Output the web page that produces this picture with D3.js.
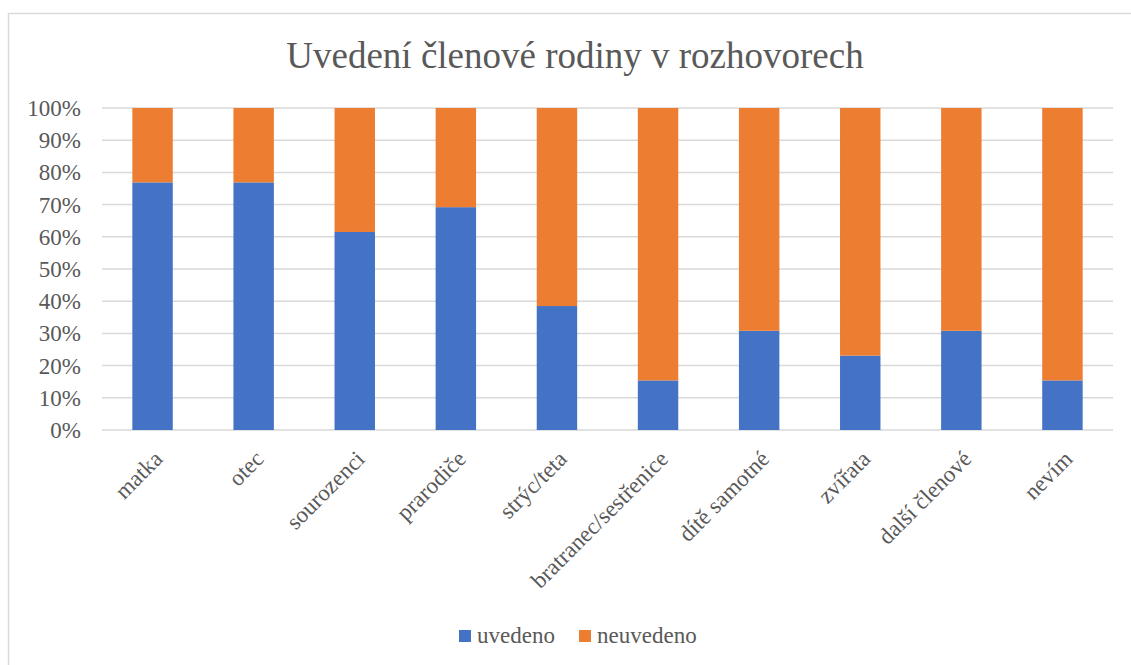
<!DOCTYPE html>
<html>
<head>
<meta charset="utf-8">
<script src="https://cdn.jsdelivr.net/npm/d3@7"></script>
<style>
  body { margin: 0; background: #fff; }
</style>
</head>
<body>
<div id="chart"></div>
<script>
// data
const categories = ["matka", "otec", "sourozenci", "prarodiče", "strýc/teta",
  "bratranec/sestřenice", "dítě samotné", "zvířata", "další členové", "nevím"];
const uvedeno = [76.9, 76.9, 61.5, 69.2, 38.5, 15.4, 30.8, 23.1, 30.8, 15.4];
const neuvedeno = uvedeno.map(v => 100 - v);
const seriesNames = ["uvedeno", "neuvedeno"];
const seriesColors = ["#4472C4", "#ED7D31"];
const yTicks = [0, 10, 20, 30, 40, 50, 60, 70, 80, 90, 100];

const fontFamily = "'Liberation Serif', 'DejaVu Serif', serif";
const width = 1131, height = 665;
const margin = {top: 108, right: 18, bottom: 235, left: 102};

const svg = d3.select("#chart").append("svg")
  .attr("width", width)
  .attr("height", height)
  .attr("font-family", fontFamily);

// chart border (only top and left are inside the picture)
svg.append("rect")
  .attr("x", 8.5).attr("y", 13.5)
  .attr("width", width + 20).attr("height", height + 20)
  .attr("fill", "none")
  .attr("stroke", "#d9d9d9")
  .attr("stroke-width", 1.5);

// title
svg.append("text")
  .attr("x", 575).attr("y", 68)
  .attr("text-anchor", "middle")
  .attr("fill", "#595959")
  .style("font-size", "37px")
  .text("Uvedení členové rodiny v rozhovorech");

const x = d3.scaleBand()
  .domain(categories)
  .range([margin.left, width - margin.right])
  .paddingInner(0.6)
  .paddingOuter(0.3);

const y = d3.scaleLinear()
  .domain([0, 100])
  .range([height - margin.bottom, margin.top]);

// gridlines
svg.append("g")
  .selectAll("line")
  .data(yTicks)
  .join("line")
  .attr("x1", margin.left)
  .attr("x2", width - margin.right)
  .attr("y1", d => y(d))
  .attr("y2", d => y(d))
  .attr("stroke", "#d9d9d9")
  .attr("stroke-width", 1.5);

// y labels
svg.append("g")
  .selectAll("text")
  .data(yTicks)
  .join("text")
  .attr("x", 81)
  .attr("y", d => y(d))
  .attr("dy", "0.35em")
  .attr("text-anchor", "end")
  .attr("fill", "#595959")
  .style("font-size", "23px")
  .text(d => d + "%");

// stacked bars
const table = categories.map((c, i) => ({cat: c, uvedeno: uvedeno[i], neuvedeno: neuvedeno[i]}));
const stack = d3.stack().keys(seriesNames)(table);

svg.append("g")
  .selectAll("g")
  .data(stack)
  .join("g")
  .attr("fill", (d, i) => seriesColors[i])
  .selectAll("rect")
  .data(d => d)
  .join("rect")
  .attr("x", d => x(d.data.cat))
  .attr("width", x.bandwidth())
  .attr("y", d => y(d[1]))
  .attr("height", d => y(d[0]) - y(d[1]));

// x labels
svg.append("g")
  .selectAll("text")
  .data(categories)
  .join("text")
  .attr("transform", d => `translate(${x(d) + x.bandwidth() / 2},${y(0) + 19}) rotate(-45)`)
  .attr("text-anchor", "end")
  .attr("dy", "0.7em")
  .attr("fill", "#595959")
  .style("font-size", "23px")
  .text(d => d);

// legend
const legendX = [459, 579];
const legend = svg.append("g")
  .selectAll("g")
  .data(seriesNames)
  .join("g")
  .attr("transform", (d, i) => `translate(${legendX[i]},630)`);

legend.append("rect")
  .attr("width", 12).attr("height", 12)
  .attr("fill", (d, i) => seriesColors[i]);

legend.append("text")
  .attr("x", 18).attr("y", 13)
  .attr("fill", "#595959")
  .style("font-size", "23px")
  .text(d => d);
</script>
</body>
</html>
